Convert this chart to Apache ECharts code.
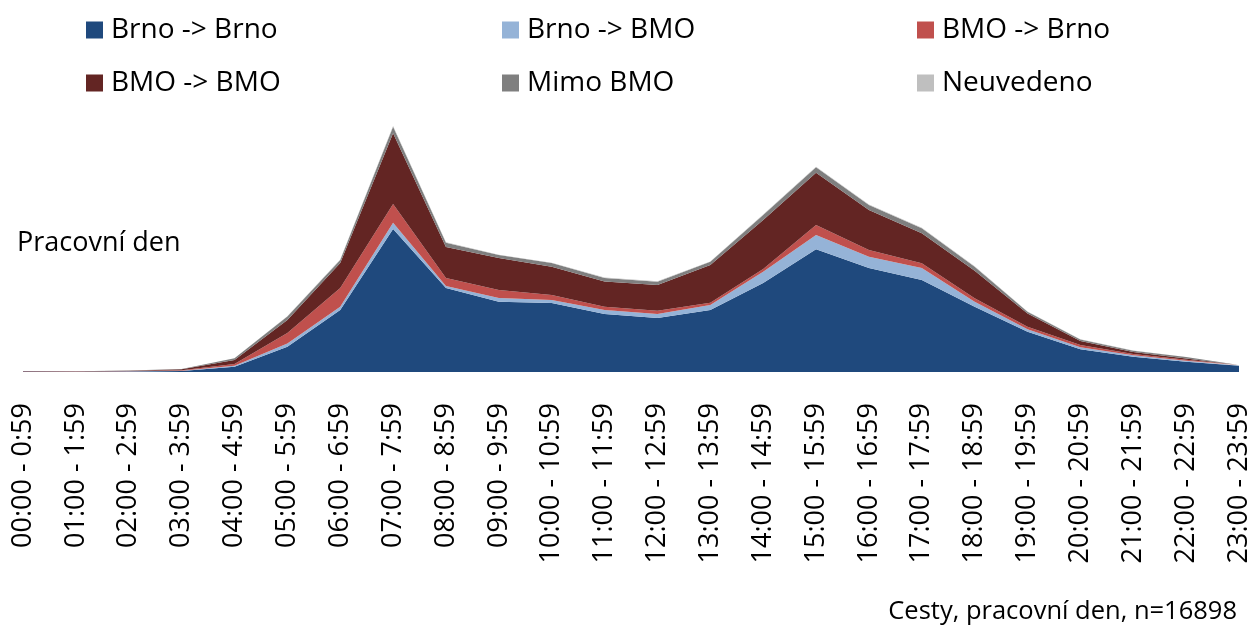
<!DOCTYPE html>
<html>
<head>
<meta charset="utf-8">
<script src="https://cdn.jsdelivr.net/npm/echarts@6/dist/echarts.min.js"></script>
<style>html,body{margin:0;padding:0;background:#fff}#c{width:1255px;height:630px}</style>
</head>
<body>
<div id="c"></div>
<script>
const categories = ["00:00 - 0:59","01:00 - 1:59","02:00 - 2:59","03:00 - 3:59","04:00 - 4:59","05:00 - 5:59","06:00 - 6:59","07:00 - 7:59","08:00 - 8:59","09:00 - 9:59","10:00 - 10:59","11:00 - 11:59","12:00 - 12:59","13:00 - 13:59","14:00 - 14:59","15:00 - 15:59","16:00 - 16:59","17:00 - 17:59","18:00 - 18:59","19:00 - 19:59","20:00 - 20:59","21:00 - 21:59","22:00 - 22:59","23:00 - 23:59"];
const brnoBrno = [4,3,5,8,45,214,525,1210,711,595,584,491,457,525,753,1038,880,778,552,341,192,129,87,53];
const brnoBmo  = [1,0,1,2,8,27,28,53,17,31,25,34,34,42,96,121,96,102,42,20,17,12,8,2];
const bmoBrno  = [1,1,2,5,14,89,158,158,68,68,42,28,28,19,23,85,57,40,29,22,19,11,8,2];
const bmoBmo   = [2,2,3,8,34,110,212,600,262,271,240,212,217,319,415,442,338,254,234,113,34,17,12,2];
const mimoBmo  = [0,0,1,2,15,30,25,55,36,25,31,31,28,28,42,46,42,42,34,14,14,11,11,1];
const neuvedeno= [0,0,0,0,1,2,3,6,4,3,3,3,3,3,4,5,4,4,3,2,1,1,1,0];

const names = ["Brno -> Brno","Brno -> BMO","BMO -> Brno","BMO -> BMO","Mimo BMO","Neuvedeno"];
const colors = ["#1F497D","#95B3D7","#C0504D","#632523","#7F7F7F","#BFBFBF"];
const values = [brnoBrno, brnoBmo, bmoBrno, bmoBmo, mimoBmo, neuvedeno];

const FONT = "'Open Sans', 'Noto Sans', sans-serif";
const legendPos = [[86,16],[502,16],[917,16],[86,69],[502,69],[917,69]];

const chart = echarts.init(document.getElementById('c'), null, {renderer:'canvas'});
chart.setOption({
  animation:false,
  backgroundColor:'#fff',
  color: colors,
  title:[
    {text:'Pracovní den', left:12, top:225, textStyle:{fontFamily:FONT, fontSize:27, fontWeight:'normal', color:'#000'}},
    {text:'Cesty, pracovní den, n=16898', right:13, bottom:0, textStyle:{fontFamily:FONT, fontSize:25.5, fontWeight:'normal', color:'#000'}}
  ],
  legend: names.map((n,i)=>({
    data:[n], left:legendPos[i][0], top:legendPos[i][1], padding:0,
    icon:'rect', itemWidth:17, itemHeight:17, itemGap:0,
    textStyle:{fontFamily:FONT, fontSize:28, color:'#000', padding:[0,0,0,3]},
    selectedMode:false
  })),
  grid:{left:23, right:16, top:112, bottom:258, containLabel:false},
  xAxis:{
    type:'category', data:categories, boundaryGap:false,
    axisLine:{show:false}, axisTick:{show:false},
    axisLabel:{interval:0, rotate:90, margin:31, fontFamily:FONT, fontSize:27, color:'#000'}
  },
  yAxis:{type:'value', min:0, max:2200, show:false, splitLine:{show:false}},
  series: names.map((n,i)=>({
    name:n, type:'line', stack:'total', data:values[i],
    symbol:'none', smooth:false,
    lineStyle:{width:0},
    areaStyle:{color:colors[i], opacity:1},
    itemStyle:{color:colors[i]}
  }))
});
</script>
</body>
</html>
